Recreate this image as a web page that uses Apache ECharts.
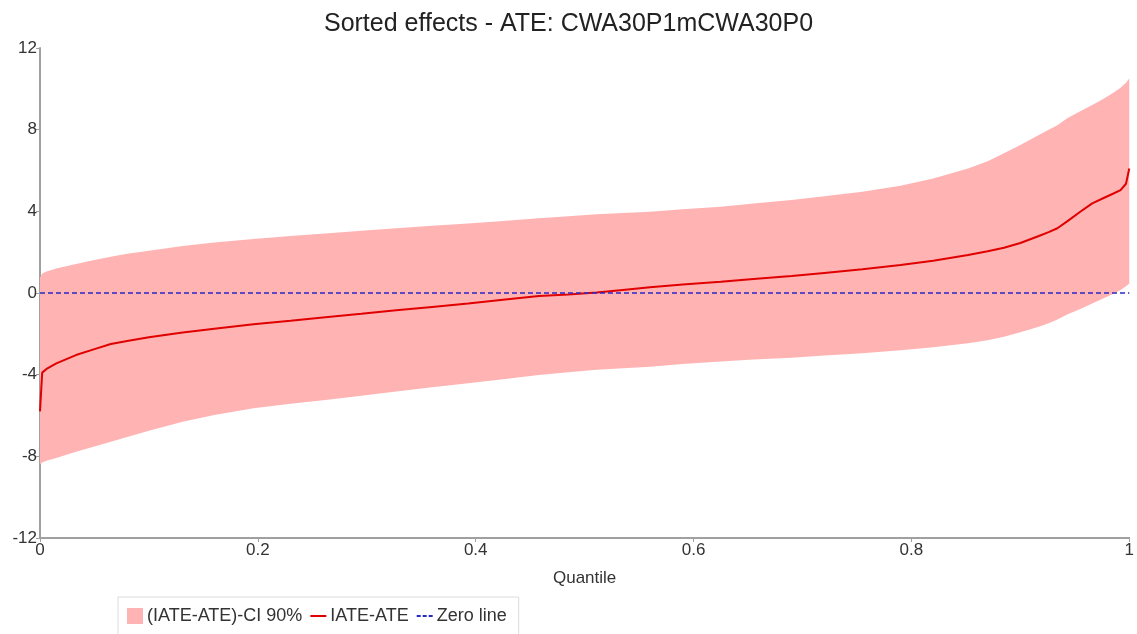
<!DOCTYPE html>
<html>
<head>
<meta charset="utf-8">
<title>Sorted effects - ATE: CWA30P1mCWA30P0</title>
<script src="https://cdn.jsdelivr.net/npm/echarts@6/dist/echarts.min.js"></script>
<style>
  html, body { margin: 0; padding: 0; background: #fff; }
  #chart { width: 1137px; height: 634px; }
</style>
</head>
<body>
<div id="chart"></div>
<script>
// Quantile grid shared by every series
const quantiles = [0, 0.002, 0.006, 0.015, 0.033, 0.05, 0.065, 0.08, 0.1, 0.131, 0.16, 0.196, 0.23,
  0.262, 0.295, 0.327, 0.36, 0.393, 0.425, 0.458, 0.485, 0.511, 0.535, 0.56, 0.59, 0.625, 0.655,
  0.69, 0.72, 0.755, 0.79, 0.82, 0.852, 0.87, 0.885, 0.9, 0.917, 0.926, 0.934, 0.943, 0.955,
  0.966, 0.976, 0.985, 0.992, 0.997, 1];

// Sorted IATE-ATE effect
const iateAte = [-5.8, -3.9, -3.72, -3.45, -3.04, -2.75, -2.5, -2.35, -2.17, -1.93, -1.75, -1.53, -1.36,
  -1.19, -1.02, -0.85, -0.68, -0.51, -0.33, -0.15, -0.07, 0.02, 0.15, 0.28, 0.42, 0.55, 0.69,
  0.83, 0.98, 1.16, 1.37, 1.58, 1.86, 2.04, 2.22, 2.45, 2.79, 2.98, 3.17, 3.51, 3.98,
  4.39, 4.64, 4.86, 5.04, 5.35, 6.1];

// 90% confidence band
const ciUpper = [0.75, 0.95, 1.05, 1.2, 1.42, 1.62, 1.78, 1.92, 2.07, 2.3, 2.47, 2.64, 2.79,
  2.92, 3.05, 3.17, 3.29, 3.41, 3.53, 3.66, 3.76, 3.86, 3.92, 3.98, 4.1, 4.23, 4.38,
  4.55, 4.74, 4.96, 5.25, 5.61, 6.1, 6.45, 6.84, 7.25, 7.74, 8.0, 8.22, 8.56, 8.9,
  9.21, 9.5, 9.8, 10.05, 10.3, 10.51];
const ciLower = [-8.4, -8.3, -8.22, -8.08, -7.77, -7.52, -7.28, -7.05, -6.75, -6.3, -5.98, -5.65, -5.43,
  -5.24, -5.03, -4.83, -4.62, -4.42, -4.22, -4.02, -3.88, -3.76, -3.68, -3.61, -3.48, -3.36, -3.26,
  -3.17, -3.06, -2.95, -2.8, -2.66, -2.46, -2.32, -2.14, -1.92, -1.65, -1.48, -1.3, -1.05, -0.78,
  -0.51, -0.27, -0.05, 0.15, 0.33, 0.47];

const yTicks = [-12, -8, -4, 0, 4, 8, 12];
const xTicks = [0, 0.2, 0.4, 0.6, 0.8, 1];

const BAND = '(IATE-ATE)-CI 90%';
const LINE = 'IATE-ATE';
const ZERO = 'Zero line';
const FONT = '"Liberation Sans", Arial, sans-serif';
const BAND_COLOR = '#ffb3b3';
const LINE_COLOR = '#e00000';
const ZERO_COLOR = '#2a2ac8';

const lineData = quantiles.map((q, i) => [q, iateAte[i]]);
const zeroData = [[xTicks[0], 0], [xTicks[xTicks.length - 1], 0]];

// Confidence band drawn as one polygon: upper edge left→right, lower edge right→left
function renderBand(params, api) {
  const pts = [];
  for (let i = 0; i < quantiles.length; i++) pts.push(api.coord([quantiles[i], ciUpper[i]]));
  for (let i = quantiles.length - 1; i >= 0; i--) pts.push(api.coord([quantiles[i], ciLower[i]]));
  return {
    type: 'polygon',
    shape: { points: pts },
    style: { fill: BAND_COLOR, stroke: null }
  };
}

const chart = echarts.init(document.getElementById('chart'), null, { renderer: 'canvas' });
chart.setOption({
  animation: false,
  backgroundColor: '#fff',
  title: {
    text: 'Sorted effects - ATE: CWA30P1mCWA30P0',
    left: 'center',
    top: 7,
    textStyle: { fontFamily: FONT, fontSize: 25, fontWeight: 'normal', color: '#222' }
  },
  legend: {
    left: 118,
    top: 597,
    orient: 'horizontal',
    padding: [10, 12, 20, 9],
    borderColor: '#dcdcdc',
    borderWidth: 1,
    itemWidth: 16,
    itemHeight: 16,
    itemGap: 8,
    symbolKeepAspect: true,
    textStyle: { fontFamily: FONT, fontSize: 18, color: '#333', padding: [0, 0, 0, -1] },
    data: [
      { name: BAND, icon: 'rect', itemStyle: { color: BAND_COLOR } },
      { name: LINE, icon: 'path://M0,0h16v2h-16z', itemStyle: { color: LINE_COLOR } },
      { name: ZERO, icon: 'path://M0,0h4v2h-4z M6,0h4v2h-4z M12,0h4v2h-4z', itemStyle: { color: ZERO_COLOR } }
    ]
  },
  grid: { left: 40, right: 4, top: 48, bottom: 96, containLabel: false },
  xAxis: {
    type: 'value',
    min: xTicks[0],
    max: xTicks[xTicks.length - 1],
    interval: 0.2,
    name: 'Quantile',
    nameLocation: 'middle',
    nameGap: 32,
    nameTextStyle: { fontFamily: FONT, fontSize: 17, color: '#333' },
    axisLine: { show: true, onZero: false, lineStyle: { color: '#a0a0a0', width: 2 } },
    axisTick: { show: true, length: 4, lineStyle: { color: '#a0a0a0' } },
    axisLabel: { fontFamily: FONT, fontSize: 17, color: '#333', margin: 4,
      formatter: v => String(Math.round(v * 10) / 10) },
    splitLine: { show: false }
  },
  yAxis: {
    type: 'value',
    min: yTicks[0],
    max: yTicks[yTicks.length - 1],
    interval: 4,
    axisLine: { show: true, onZero: false, lineStyle: { color: '#a0a0a0', width: 2 } },
    axisTick: { show: true, length: 4, lineStyle: { color: '#a0a0a0' } },
    axisLabel: { fontFamily: FONT, fontSize: 17, color: '#333', margin: 3 },
    splitLine: { show: false }
  },
  series: [
    {
      name: BAND,
      type: 'custom',
      renderItem: renderBand,
      data: [[quantiles[0], ciLower[0]]],
      itemStyle: { color: BAND_COLOR },
      silent: true,
      z: 1
    },
    {
      name: LINE,
      type: 'line',
      data: lineData,
      symbol: 'none',
      itemStyle: { color: LINE_COLOR },
      lineStyle: { color: LINE_COLOR, width: 2 },
      z: 3
    },
    {
      name: ZERO,
      type: 'line',
      data: zeroData,
      symbol: 'none',
      itemStyle: { color: ZERO_COLOR },
      lineStyle: { color: ZERO_COLOR, width: 1.5, type: [5, 3] },
      z: 4
    }
  ]
});
</script>
</body>
</html>
